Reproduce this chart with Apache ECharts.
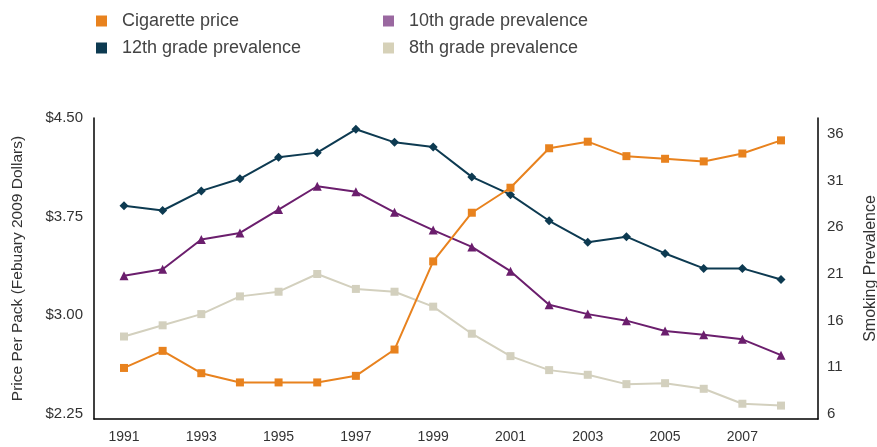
<!DOCTYPE html>
<html>
<head>
<meta charset="utf-8">
<script src="https://cdn.jsdelivr.net/npm/echarts@6/dist/echarts.min.js"></script>
<style>
html,body{margin:0;padding:0;background:#fff;}
#chart{width:877px;height:447px;}
</style>
</head>
<body>
<div id="chart"></div>
<script>
// ---- data ----
var years = [1991,1992,1993,1994,1995,1996,1997,1998,1999,2000,2001,2002,2003,2004,2005,2006,2007,2008];
var cigarettePrice = [2.60,2.73,2.56,2.49,2.49,2.49,2.54,2.74,3.41,3.78,3.97,4.27,4.32,4.21,4.19,4.17,4.23,4.33];
var grade12 = [28.3,27.8,29.9,31.2,33.5,34.0,36.5,35.1,34.6,31.4,29.5,26.7,24.4,25.0,23.2,21.6,21.6,20.4];
var grade10 = [20.8,21.5,24.7,25.4,27.9,30.4,29.8,27.6,25.7,23.9,21.3,17.7,16.7,16.0,14.9,14.5,14.0,12.3];
var grade8  = [14.3,15.5,16.7,18.6,19.1,21.0,19.4,19.1,17.5,14.6,12.2,10.7,10.2,9.2,9.3,8.7,7.1,6.9];
var xTickLabels = [1991,1993,1995,1997,1999,2001,2003,2005,2007];
var priceTicks = [2.25,3.00,3.75,4.50];
var prevTicks = [6,11,16,21,26,31,36];

function pairs(vals){ return years.map(function(y,i){ return [y, vals[i]]; }); }

var FONT = 'Liberation Sans, Arial, sans-serif';
var chart = echarts.init(document.getElementById('chart'), null, {renderer:'canvas'});
var legendText = {fontFamily: FONT, fontSize: 18, color: '#444', padding: [0,0,0,10], lineHeight: 17};

chart.setOption({
  animation: false,
  backgroundColor: '#fff',
  legend: [
    {
      orient: 'vertical', left: 91, top: 7, itemWidth: 11, itemHeight: 11, itemGap: 9,
      icon: 'rect', textStyle: legendText, selectedMode: false,
      data: [
        {name: 'Cigarette price', itemStyle: {color: '#E8821E'}},
        {name: '12th grade prevalence', itemStyle: {color: '#0D3A51'}}
      ]
    },
    {
      orient: 'vertical', left: 378, top: 7, itemWidth: 11, itemHeight: 11, itemGap: 9,
      icon: 'rect', textStyle: legendText, selectedMode: false,
      data: [
        {name: '10th grade prevalence', itemStyle: {color: '#9A68A0'}},
        {name: '8th grade prevalence', itemStyle: {color: '#D6D1B8'}}
      ]
    }
  ],
  grid: {left: 94, right: 59, top: 118, bottom: 28, outerBoundsMode: 'none', containLabel: false},
  xAxis: {
    type: 'value', min: 1990.224, max: 2008.957,
    axisLine: {show: true, lineStyle: {color: '#000', width: 1.5}},
    axisTick: {show: false},
    splitLine: {show: false},
    axisLabel: {customValues: xTickLabels, fontFamily: FONT, fontSize: 14, color: '#333', margin: 11,
      formatter: function(v){ return String(v); }}
  },
  yAxis: [
    {
      type: 'value', min: 2.212, max: 4.50, position: 'left',
      name: 'Price Per Pack (Febuary 2009 Dollars)', nameLocation: 'middle', nameGap: 68, nameRotate: 90,
      nameTextStyle: {fontFamily: FONT, fontSize: 15.5, color: '#333'},
      axisLine: {show: true, lineStyle: {color: '#000', width: 1.5}},
      axisTick: {show: false}, splitLine: {show: false},
      axisLabel: {customValues: priceTicks, fontFamily: FONT, fontSize: 15, color: '#333', margin: 11,
        formatter: function(v){ return '$' + Number(v).toFixed(2); }}
    },
    {
      type: 'value', min: 5.464, max: 37.71, position: 'right',
      name: 'Smoking Prevalence', nameLocation: 'middle', nameGap: 45, nameRotate: 90,
      nameTextStyle: {fontFamily: FONT, fontSize: 16, color: '#333'},
      axisLine: {show: true, lineStyle: {color: '#000', width: 1.5}},
      axisTick: {show: false}, splitLine: {show: false},
      axisLabel: {customValues: prevTicks, fontFamily: FONT, fontSize: 15, color: '#333', margin: 9,
        formatter: function(v){ return String(v); }}
    }
  ],
  series: [
    {name: 'Cigarette price', type: 'line', yAxisIndex: 0, data: pairs(cigarettePrice),
      symbol: 'rect', symbolSize: 8, lineStyle: {color: '#E8821E', width: 2}, itemStyle: {color: '#E8821E'}, z: 5},
    {name: '12th grade prevalence', type: 'line', yAxisIndex: 1, data: pairs(grade12),
      symbol: 'diamond', symbolSize: 9, lineStyle: {color: '#0D3A51', width: 2}, itemStyle: {color: '#0D3A51'}},
    {name: '10th grade prevalence', type: 'line', yAxisIndex: 1, data: pairs(grade10),
      symbol: 'triangle', symbolSize: 9, lineStyle: {color: '#6B1E6D', width: 2}, itemStyle: {color: '#6B1E6D'}},
    {name: '8th grade prevalence', type: 'line', yAxisIndex: 1, data: pairs(grade8),
      symbol: 'rect', symbolSize: 8, lineStyle: {color: '#D3D0BE', width: 2}, itemStyle: {color: '#D3D0BE'}}
  ]
});
</script>
</body>
</html>
